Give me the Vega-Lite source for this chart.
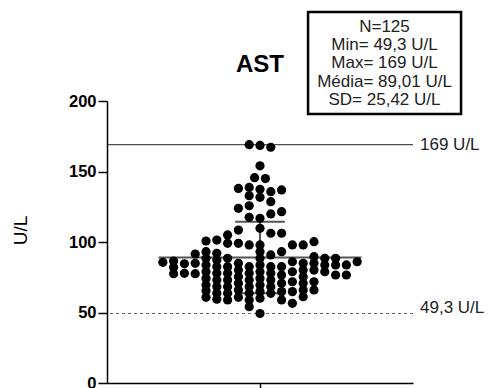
{
  "$schema": "https://vega.github.io/schema/vega-lite/v6.json",
  "width": 306,
  "height": 282,
  "autosize": {"type": "none"},
  "padding": {"left": 107, "top": 101, "right": 76, "bottom": 5},
  "background": "white",
  "config": {"view": {"stroke": null}, "font": "Liberation Sans"},
  "datasets": {
    "ast": [
      {"col": -1, "v": 169}, {"col": 0, "v": 168.5}, {"col": 1, "v": 167.2},
      {"col": 0, "v": 154},
      {"col": -0.5, "v": 145.6}, {"col": 0.5, "v": 145},
      {"col": -2, "v": 138}, {"col": -1, "v": 138.7}, {"col": 0, "v": 137.4}, {"col": 1, "v": 135.7}, {"col": 2, "v": 136.9},
      {"col": -1, "v": 132.8}, {"col": 0, "v": 131.7},
      {"col": 1, "v": 128.6},
      {"col": -2, "v": 123.9}, {"col": -1, "v": 125.7},
      {"col": -1, "v": 117.5}, {"col": 0, "v": 116.8}, {"col": 1, "v": 119.9}, {"col": 2, "v": 121.5},
      {"col": -9, "v": 85.6},
      {"col": -8, "v": 86.5}, {"col": -8, "v": 82}, {"col": -8, "v": 77.5},
      {"col": -7, "v": 84.5}, {"col": -7, "v": 77.8},
      {"col": -6, "v": 91.5}, {"col": -6, "v": 84.9}, {"col": -6, "v": 77.5},
      {"col": -5, "v": 100.7}, {"col": -5, "v": 93.1}, {"col": -5, "v": 88.4}, {"col": -5, "v": 83.7}, {"col": -5, "v": 78.9}, {"col": -5, "v": 74.2}, {"col": -5, "v": 69.5}, {"col": -5, "v": 65.5}, {"col": -5, "v": 60.8},
      {"col": -4, "v": 101.4}, {"col": -4, "v": 92}, {"col": -4, "v": 87.2}, {"col": -4, "v": 82.5}, {"col": -4, "v": 77.8}, {"col": -4, "v": 73}, {"col": -4, "v": 68.3}, {"col": -4, "v": 63.6}, {"col": -4, "v": 59.4},
      {"col": -3, "v": 105}, {"col": -3, "v": 99.1}, {"col": -3, "v": 88.4}, {"col": -3, "v": 82.5}, {"col": -3, "v": 77.8}, {"col": -3, "v": 73}, {"col": -3, "v": 68.3}, {"col": -3, "v": 63.6}, {"col": -3, "v": 58.9},
      {"col": -2, "v": 108.5}, {"col": -2, "v": 99.1}, {"col": -2, "v": 84.9}, {"col": -2, "v": 80.1}, {"col": -2, "v": 75.4}, {"col": -2, "v": 70.7}, {"col": -2, "v": 66}, {"col": -2, "v": 60.8},
      {"col": -1, "v": 97.9}, {"col": -1, "v": 82.5}, {"col": -1, "v": 77.8}, {"col": -1, "v": 73}, {"col": -1, "v": 68.3}, {"col": -1, "v": 63.6}, {"col": -1, "v": 58.9}, {"col": -1, "v": 54.1},
      {"col": 0, "v": 109.7}, {"col": 0, "v": 97.9}, {"col": 0, "v": 93.1}, {"col": 0, "v": 88.4}, {"col": 0, "v": 83.7}, {"col": 0, "v": 78.9}, {"col": 0, "v": 74.2}, {"col": 0, "v": 69.5}, {"col": 0, "v": 64.8}, {"col": 0, "v": 60.1}, {"col": 0, "v": 49.3},
      {"col": 1, "v": 106.2}, {"col": 1, "v": 90.8}, {"col": 1, "v": 82.5}, {"col": 1, "v": 77.8}, {"col": 1, "v": 73}, {"col": 1, "v": 68.3}, {"col": 1, "v": 63.6},
      {"col": 2, "v": 106.2}, {"col": 2, "v": 93.1}, {"col": 2, "v": 82.5}, {"col": 2, "v": 76.6}, {"col": 2, "v": 70.7}, {"col": 2, "v": 64.8}, {"col": 2, "v": 58.9},
      {"col": 3, "v": 97.9}, {"col": 3, "v": 86}, {"col": 3, "v": 78.9}, {"col": 3, "v": 71.8}, {"col": 3, "v": 64.8}, {"col": 3, "v": 56.5},
      {"col": 4, "v": 97.9}, {"col": 4, "v": 84.9}, {"col": 4, "v": 80.1}, {"col": 4, "v": 75.4}, {"col": 4, "v": 70.7}, {"col": 4, "v": 66}, {"col": 4, "v": 61.2},
      {"col": 5, "v": 100.2}, {"col": 5, "v": 89.6}, {"col": 5, "v": 84.9}, {"col": 5, "v": 80.1}, {"col": 5, "v": 71.8}, {"col": 5, "v": 66},
      {"col": 6, "v": 88.4}, {"col": 6, "v": 83.7}, {"col": 6, "v": 78.9},
      {"col": 7, "v": 88.4}, {"col": 7, "v": 83.7}, {"col": 7, "v": 76.6},
      {"col": 8, "v": 83.7}, {"col": 8, "v": 76.6},
      {"col": 9, "v": 86}
    ],
    "one": [{}]
  },
  "layer": [
    {
      "data": {"name": "one"},
      "mark": {"type": "rule", "color": "#555", "strokeWidth": 2},
      "encoding": {
        "x": {"datum": -9.4, "type": "quantitative", "scale": {"domain": [-14.17, 14.17], "nice": false, "zero": false}},
        "x2": {"datum": 9.4},
        "y": {"datum": 89.01, "type": "quantitative", "scale": {"domain": [0, 200], "nice": false}}
      }
    },
    {
      "data": {"name": "one"},
      "mark": {"type": "rule", "color": "#555", "strokeWidth": 2},
      "encoding": {
        "x": {"datum": -2.3, "type": "quantitative", "scale": {"domain": [-14.17, 14.17], "nice": false, "zero": false}},
        "x2": {"datum": 2.3},
        "y": {"datum": 114.43, "type": "quantitative", "scale": {"domain": [0, 200], "nice": false}}
      }
    },
    {
      "data": {"name": "one"},
      "mark": {"type": "rule", "color": "#555", "strokeWidth": 2},
      "encoding": {
        "x": {"datum": -2.3, "type": "quantitative", "scale": {"domain": [-14.17, 14.17], "nice": false, "zero": false}},
        "x2": {"datum": 2.3},
        "y": {"datum": 63.59, "type": "quantitative", "scale": {"domain": [0, 200], "nice": false}}
      }
    },
    {
      "data": {"name": "one"},
      "mark": {"type": "rule", "color": "#555", "strokeWidth": 2},
      "encoding": {
        "x": {"datum": 0, "type": "quantitative", "scale": {"domain": [-14.17, 14.17], "nice": false, "zero": false}},
        "y": {"datum": 63.59, "type": "quantitative", "scale": {"domain": [0, 200], "nice": false}},
        "y2": {"datum": 114.43}
      }
    },
    {
      "data": {"name": "one"},
      "mark": {"type": "rule", "color": "#222", "strokeWidth": 1},
      "encoding": {
        "y": {"datum": 169, "type": "quantitative", "scale": {"domain": [0, 200], "nice": false}}
      }
    },
    {
      "data": {"name": "one"},
      "mark": {"type": "rule", "color": "#666", "strokeWidth": 1, "strokeDash": [3, 3]},
      "encoding": {
        "y": {"datum": 49.3, "type": "quantitative", "scale": {"domain": [0, 200], "nice": false}}
      }
    },
    {
      "data": {"name": "ast"},
      "mark": {"type": "circle", "color": "black", "opacity": 1, "size": 85},
      "encoding": {
        "x": {"field": "col", "type": "quantitative", "scale": {"domain": [-14.17, 14.17], "nice": false, "zero": false},
              "axis": {"values": [0], "labels": false, "title": null, "grid": false, "tickSize": 5, "domainColor": "black", "domainWidth": 1.5, "tickColor": "black", "tickWidth": 1.5}},
        "y": {"field": "v", "type": "quantitative", "scale": {"domain": [0, 200], "nice": false},
              "axis": {"values": [0, 50, 100, 150, 200], "title": "U/L", "grid": false, "tickSize": 9, "labelFontSize": 16.5, "labelFontWeight": "bold", "labelColor": "black", "labelPadding": 2, "labelFont": "Liberation Sans", "domainColor": "black", "domainWidth": 1.5, "tickColor": "black", "tickWidth": 1.5, "titleFont": "Liberation Sans", "titleFontSize": 19, "titleFontWeight": "normal", "titleColor": "black", "titleX": -87, "titleY": 129, "titleAngle": -90, "titleAlign": "center", "titleBaseline": "middle"}}
      }
    },
    {
      "data": {"name": "one"},
      "mark": {"type": "text", "text": "AST", "align": "center", "baseline": "alphabetic", "fontSize": 24, "fontWeight": "bold", "color": "black", "font": "Liberation Sans"},
      "encoding": {
        "x": {"datum": 0, "type": "quantitative", "scale": {"domain": [-14.17, 14.17], "nice": false, "zero": false}},
        "y": {"datum": 220.6, "type": "quantitative", "scale": {"domain": [0, 200], "nice": false}}
      }
    },
    {
      "data": {"name": "one"},
      "mark": {"type": "text", "text": "169 U/L", "align": "left", "baseline": "middle", "fontSize": 17, "color": "#222", "font": "Liberation Sans"},
      "encoding": {
        "x": {"datum": 14.82, "type": "quantitative", "scale": {"domain": [-14.17, 14.17], "nice": false, "zero": false}},
        "y": {"datum": 169, "type": "quantitative", "scale": {"domain": [0, 200], "nice": false}}
      }
    },
    {
      "data": {"name": "one"},
      "mark": {"type": "text", "text": "49,3 U/L", "align": "left", "baseline": "alphabetic", "fontSize": 17, "color": "#222", "font": "Liberation Sans"},
      "encoding": {
        "x": {"datum": 14.82, "type": "quantitative", "scale": {"domain": [-14.17, 14.17], "nice": false, "zero": false}},
        "y": {"datum": 49.3, "type": "quantitative", "scale": {"domain": [0, 200], "nice": false}}
      }
    },
    {
      "data": {"name": "one"},
      "mark": {"type": "rect", "fill": "white", "stroke": "black", "strokeWidth": 2.5},
      "encoding": {
        "x": {"datum": 4.45, "type": "quantitative", "scale": {"domain": [-14.17, 14.17], "nice": false, "zero": false}},
        "x2": {"datum": 18.62},
        "y": {"datum": 263.1, "type": "quantitative", "scale": {"domain": [0, 200], "nice": false}},
        "y2": {"datum": 190.8}
      }
    },
    {
      "data": {"name": "one"},
      "mark": {"type": "text", "text": ["N=125", "Min= 49,3 U/L", "Max= 169 U/L", "Média= 89,01 U/L", "SD= 25,42 U/L"], "align": "center", "baseline": "alphabetic", "lineHeight": 18.3, "fontSize": 17, "color": "#222", "font": "Liberation Sans"},
      "encoding": {
        "x": {"datum": 11.53, "type": "quantitative", "scale": {"domain": [-14.17, 14.17], "nice": false, "zero": false}},
        "y": {"datum": 249.1, "type": "quantitative", "scale": {"domain": [0, 200], "nice": false}}
      }
    }
  ]
}
